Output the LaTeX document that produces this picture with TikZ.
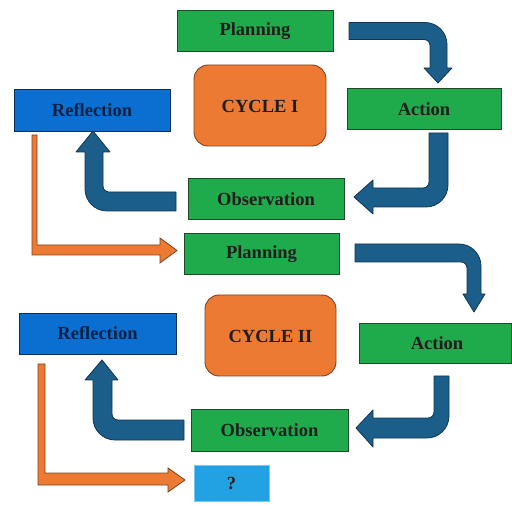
\documentclass[tikz,border=0pt]{standalone}
\usepackage{fontspec}
\setmainfont{Liberation Serif}
\definecolor{boxgreen}{HTML}{1FAA4C}
\definecolor{greenline}{HTML}{1E4A2A}
\definecolor{cycorange}{HTML}{EC7A32}
\definecolor{orangeline}{HTML}{7E4220}
\definecolor{reflblue}{HTML}{0B6FD2}
\definecolor{reflline}{HTML}{0C2E5C}
\definecolor{arrblue}{HTML}{1C5E8A}
\definecolor{arrline}{HTML}{103652}
\definecolor{qblue}{HTML}{22A2E3}
\definecolor{txt}{HTML}{1E1E1E}
\begin{document}
\begin{tikzpicture}[x=1pt,y=-1pt,
  lbl/.style={font=\fontsize{18.5}{20}\selectfont\bfseries, text=txt},
  greenbox/.style={draw=greenline, fill=boxgreen, line width=0.9pt},
  cyclebox/.style={draw=orangeline, fill=cycorange, line width=0.9pt, rounded corners=14pt},
  reflbox/.style={draw=reflline, fill=reflblue, line width=0.9pt},
  qbox/.style={draw=qblue!60!white, fill=qblue, line width=0.6pt},
  bluearrow/.style={draw=arrline, fill=arrblue, line width=0.8pt, line join=round},
  orangearrow/.style={draw=orangeline, fill=cycorange, line width=0.8pt, line join=miter}]
\useasboundingbox (0,0) rectangle (512,505);

% ---------- Cycle I ----------
\draw[greenbox] (177,10) rectangle (333,51);
\node[lbl] (plan1) at (255,31.5) {Planning};
\draw[cyclebox] (194,65) rectangle (326,146);
\node[lbl] (cyc1) at (260,106) {CYCLE I};
\draw[reflbox] (14,89) rectangle (170,131);
\node[lbl, text=reflline!70!black] (refl1) at (92,110) {Reflection};
\draw[greenbox] (347,88) rectangle (501,129);
\node[lbl] (act1) at (424,109) {Action};
\draw[greenbox] (188,178) rectangle (344,219);
\node[lbl] (obs1) at (266,199) {Observation};

% Planning -> Action
\draw[bluearrow] (349,22.5) -- (425,22.5) .. controls (437.1,22.5) and (447,32.4) .. (447,44.5) -- (447,68) -- (452,68) -- (438,83) -- (424,68) -- (430,68) -- (430,45.5) .. controls (430,42.2) and (427.3,39.5) .. (424,39.5) -- (349,39.5) -- cycle;
% Action -> Observation
\draw[bluearrow] (429,133) -- (448,133) -- (448,185) .. controls (448,197.1) and (438.1,207) .. (426,207) -- (373,207) -- (373,214) -- (354,197) -- (373,180) -- (373,188) -- (423,188) .. controls (426.3,188) and (429,185.3) .. (429,182) -- cycle;
% Observation -> Reflection
\draw[bluearrow] (176,192) -- (109,192) .. controls (105.7,192) and (103,189.3) .. (103,186) -- (103,152) -- (110,152) -- (93,131) -- (76,152) -- (85,152) -- (85,189) .. controls (85,201.1) and (94.9,211) .. (107,211) -- (176,211) -- cycle;
% Reflection -> Planning II
\draw[orangearrow] (32,135) -- (37,135) -- (37,245) -- (160,245) -- (160,238) -- (177,250.5) -- (160,263) -- (160,255) -- (32,255) -- cycle;

% ---------- Cycle II ----------
\draw[greenbox] (184,233) rectangle (339,274);
\node[lbl] (plan2) at (261.5,254) {Planning};
\draw[cyclebox] (205,295) rectangle (336,376);
\node[lbl] (cyc2) at (270.5,336) {CYCLE II};
\draw[reflbox] (19,313) rectangle (176,354);
\node[lbl, text=reflline!70!black] (refl2) at (97.5,333) {Reflection};
\draw[greenbox] (359,323) rectangle (511,363);
\node[lbl] (act2) at (437,343.5) {Action};
\draw[greenbox] (191,409) rectangle (348,451);
\node[lbl] (obs2) at (269.5,430.5) {Observation};
\draw[qbox] (194,465) rectangle (269,501);
\node[lbl] (q) at (231.5,484) {?};

% Planning II -> Action II
\draw[bluearrow] (355,244) -- (459,244) .. controls (471.1,244) and (481,253.9) .. (481,266) -- (481,294) -- (485,294) -- (474,312) -- (463,294) -- (467,294) -- (467,268) .. controls (467,264.7) and (464.3,262) .. (461,262) -- (355,262) -- cycle;
% Action II -> Observation II
\draw[bluearrow] (434,376) -- (449,376) -- (449,416) .. controls (449,428.1) and (439.1,438) .. (427,438) -- (373,438) -- (373,447) -- (356,428) -- (373,410) -- (373,418) -- (428,418) .. controls (431.3,418) and (434,415.3) .. (434,412) -- cycle;
% Observation II -> Reflection II
\draw[bluearrow] (184,420) -- (118,420) .. controls (114.7,420) and (112,417.3) .. (112,414) -- (112,380) -- (118,380) -- (102,360) -- (85,380) -- (93,380) -- (93,418) .. controls (93,430.1) and (102.9,440) .. (115,440) -- (184,440) -- cycle;
% Reflection II -> ?
\draw[orangearrow] (38,364) -- (45,364) -- (45,473) -- (168,473) -- (168,468) -- (185,480) -- (168,492) -- (168,485) -- (38,485) -- cycle;
\end{tikzpicture}
\end{document}
